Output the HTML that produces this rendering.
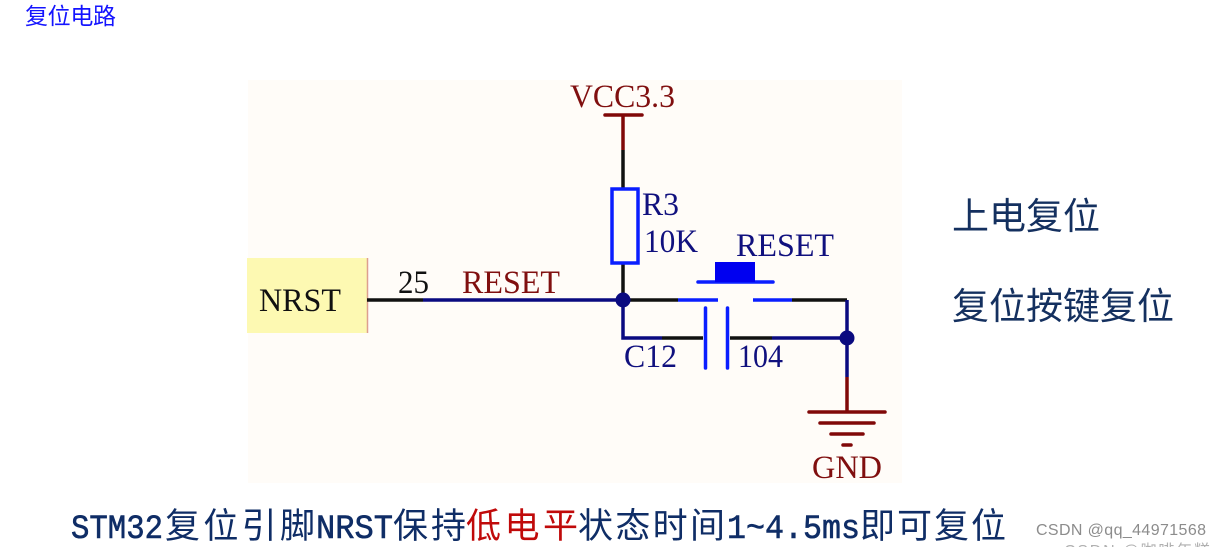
<!DOCTYPE html>
<html lang="zh">
<head>
<meta charset="utf-8">
<style>
html,body{margin:0;padding:0;background:#fff;width:1221px;height:547px;overflow:hidden}
svg{display:block;filter:blur(.35px)}
.s{font-family:"Liberation Serif","Noto Serif CJK SC",serif}
.c{font-family:"Liberation Sans","Noto Sans CJK SC",sans-serif}
.m{font-family:"Liberation Mono","DejaVu Sans Mono",monospace;stroke:#0f2d66;stroke-width:.6px}
</style>
</head>
<body>
<svg width="1221" height="547" viewBox="0 0 1221 547" xmlns="http://www.w3.org/2000/svg">
<rect width="1221" height="547" fill="#fff"/>
<text class="c" x="25" y="24" font-size="23" fill="#1414ff" textLength="91">复位电路</text>
<rect x="248" y="80" width="654" height="403" fill="#fffcf8"/>
<rect x="247" y="258" width="120" height="75" fill="#fdf9b2"/>
<line x1="367.5" y1="258" x2="367.5" y2="333" stroke="#dd9f8f" stroke-width="1.5"/>
<g fill="none" stroke-width="3.5">
<path d="M367 300H423" stroke="#111"/>
<path d="M423 300H623" stroke="#0a0a80"/>
<path d="M623 300H678" stroke="#111"/>
<path d="M678 300H718M753 300H792" stroke="#0a1eff"/>
<path d="M792 300H847" stroke="#111"/>
<path d="M847 300V377" stroke="#0a0a80"/>
<path d="M847 377V412" stroke="#800808"/>
<path d="M623 300V338H662" stroke="#0a0a80"/>
<path d="M662 338H703M730 338H772" stroke="#111"/>
<path d="M772 338H847" stroke="#0a0a80"/>
<path d="M623 115V150" stroke="#800808"/>
<path d="M623 150V188M623 264V300" stroke="#111"/>
</g>
<g stroke="#800808" stroke-width="3.5" stroke-linecap="round">
<line x1="605" y1="115" x2="642" y2="115"/>
<line x1="809" y1="412" x2="885" y2="412"/>
<line x1="820" y1="423" x2="874" y2="423"/>
<line x1="831" y1="434" x2="863" y2="434"/>
<line x1="843" y1="445" x2="851" y2="445"/>
</g>
<rect x="612" y="189" width="26" height="74" fill="#fffcf8" stroke="#0a1eff" stroke-width="3.5"/>
<g stroke="#0a1eff" stroke-width="3.5" stroke-linecap="round">
<line x1="705.5" y1="308" x2="705.5" y2="368"/>
<line x1="727.5" y1="308" x2="727.5" y2="368"/>
<line x1="698" y1="282" x2="773" y2="282"/>
</g>
<rect x="715" y="262" width="40" height="20" fill="#0000f0"/>
<circle cx="623" cy="300" r="7.5" fill="#0a0a80"/>
<circle cx="847" cy="338" r="7.5" fill="#0a0a80"/>
<g class="s" font-size="33">
<text x="570" y="107" fill="#800f0f" textLength="105" lengthAdjust="spacingAndGlyphs">VCC3.3</text>
<text x="642" y="215" fill="#10107e" textLength="37" lengthAdjust="spacingAndGlyphs">R3</text>
<text x="644" y="252" fill="#10107e" textLength="54" lengthAdjust="spacingAndGlyphs">10K</text>
<text x="736" y="256" fill="#10107e" textLength="98" lengthAdjust="spacingAndGlyphs">RESET</text>
<text x="259" y="311" fill="#111" textLength="82" lengthAdjust="spacingAndGlyphs">NRST</text>
<text x="398" y="293" fill="#111" textLength="31" lengthAdjust="spacingAndGlyphs">25</text>
<text x="462" y="293" fill="#800f0f" textLength="98" lengthAdjust="spacingAndGlyphs">RESET</text>
<text x="624" y="367" fill="#10107e" textLength="53" lengthAdjust="spacingAndGlyphs">C12</text>
<text x="738" y="367" fill="#10107e" textLength="45" lengthAdjust="spacingAndGlyphs">104</text>
<text x="812" y="478" fill="#800f0f" textLength="70" lengthAdjust="spacingAndGlyphs">GND</text>
</g>
<g class="c" font-size="37" fill="#14305f">
<text x="952" y="229" textLength="148">上电复位</text>
<text x="952" y="319" textLength="222">复位按键复位</text>
</g>
<g fill="#0f2d66">
<text class="m" x="71" y="538" font-size="34" textLength="92" lengthAdjust="spacingAndGlyphs">STM32</text>
<text class="c" x="165" y="538" font-size="35" textLength="150">复位引脚</text>
<text class="m" x="316" y="538" font-size="34" textLength="77" lengthAdjust="spacingAndGlyphs">NRST</text>
<text class="c" x="393" y="538" font-size="35" textLength="73">保持</text>
<text class="c" x="466" y="538" font-size="35" fill="#c00a0a" textLength="112">低电平</text>
<text class="c" x="578" y="538" font-size="35" textLength="147">状态时间</text>
<text class="m" x="727" y="538" font-size="34" textLength="133" lengthAdjust="spacingAndGlyphs">1~4.5ms</text>
<text class="c" x="860" y="538" font-size="35" textLength="146">即可复位</text>
</g>
<text class="c" x="1036" y="535" font-size="16" fill="#8c8c8c" textLength="170">CSDN @qq_44971568</text>
<text class="c" x="1064" y="556" font-size="16" fill="#b0b0b0" textLength="146">CSDN @咖啡年糕</text>
</svg>
</body>
</html>
